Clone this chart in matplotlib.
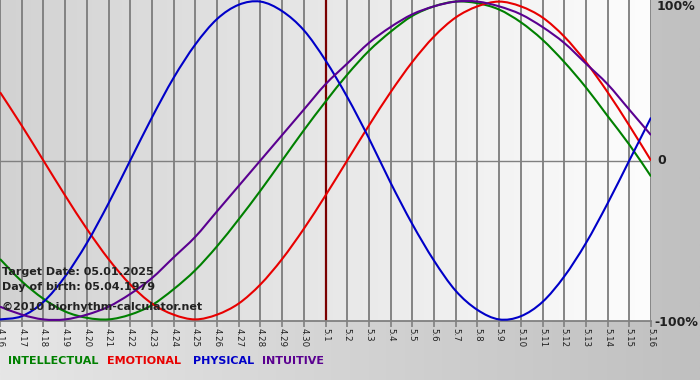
import numpy as np
import matplotlib
matplotlib.use('Agg')
import matplotlib.pyplot as plt
from matplotlib.path import Path
from matplotlib.patches import PathPatch
from matplotlib.colors import LinearSegmentedColormap

# days shown on the x axis (month.day)
days = ['4.16', '4.17', '4.18', '4.19', '4.20', '4.21', '4.22', '4.23', '4.24', '4.25',
        '4.26', '4.27', '4.28', '4.29', '4.30', '5.1', '5.2', '5.3', '5.4', '5.5',
        '5.6', '5.7', '5.8', '5.9', '5.10', '5.11', '5.12', '5.13', '5.14', '5.15', '5.16']
target_day = '5.1'

# daily values (-1 .. 1)
physical = [-1.00, -0.98, -0.89, -0.73, -0.52, -0.27, 0.00, 0.27, 0.52, 0.73,
            0.89, 0.98, 1.00, 0.94, 0.82, 0.63, 0.40, 0.14, -0.14, -0.40,
            -0.63, -0.82, -0.94, -1.00, -0.98, -0.89, -0.73, -0.52, -0.27, 0.00, 0.27]
emotional = [0.43, 0.22, 0.00, -0.22, -0.43, -0.62, -0.78, -0.90, -0.97, -1.00,
             -0.97, -0.90, -0.78, -0.62, -0.43, -0.22, 0.00, 0.22, 0.43, 0.62,
             0.78, 0.90, 0.97, 1.00, 0.97, 0.90, 0.78, 0.62, 0.43, 0.22, 0.00]
intellectual = [-0.62, -0.76, -0.87, -0.95, -0.99, -1.00, -0.97, -0.91, -0.81, -0.69,
                -0.54, -0.37, -0.19, 0.00, 0.19, 0.37, 0.54, 0.69, 0.81, 0.91,
                0.97, 1.00, 0.99, 0.95, 0.87, 0.76, 0.62, 0.46, 0.28, 0.10, -0.10]
intuitive = [-0.92, -0.97, -1.00, -1.00, -0.97, -0.92, -0.84, -0.74, -0.61, -0.48,
             -0.32, -0.16, 0.00, 0.16, 0.32, 0.48, 0.61, 0.74, 0.84, 0.92,
             0.97, 1.00, 1.00, 0.97, 0.92, 0.84, 0.74, 0.61, 0.48, 0.32, 0.16]

series = [('INTELLECTUAL', intellectual, '#008000'),
          ('EMOTIONAL', emotional, '#e80000'),
          ('PHYSICAL', physical, '#0000c8'),
          ('INTUITIVE', intuitive, '#5a0090')]


def smooth_path(xs, ys):
    # catmull-rom spline through the points, drawn as cubic bezier segments
    pts = np.column_stack([xs, ys]).astype(float)
    ext = np.vstack([pts[0], pts, pts[-1]])
    verts = [pts[0]]
    codes = [Path.MOVETO]
    for i in range(len(pts) - 1):
        p0, p1, p2, p3 = ext[i], ext[i + 1], ext[i + 2], ext[i + 3]
        verts += [p1 + (p2 - p0) / 6, p2 - (p3 - p1) / 6, p2]
        codes += [Path.CURVE4] * 3
    return Path(verts, codes)


W, H = 700, 380
fig = plt.figure(figsize=(W / 100, H / 100), dpi=100)

# figure background: grey gradient
bg = fig.add_axes([0, 0, 1, 1], zorder=-10)
grad = np.linspace(0, 1, 256).reshape(1, -1)
bg.imshow(grad, extent=[0, 1, 0, 1], aspect='auto',
          cmap=LinearSegmentedColormap.from_list('g', ['#e6e6e6', '#c0c0c0']))
bg.axis('off')

left_px, top_px, right_px, bottom_px = 0, 0, 651, 321
ax = fig.add_axes([left_px / W, 1 - bottom_px / H, (right_px - left_px) / W, (bottom_px - top_px) / H])

x = np.arange(len(days))
ax.set_xlim(0, len(days) - 1)
ax.set_ylim(-1.01, 1.01)

# plot area gradient
ax.imshow(grad, extent=[0, len(days) - 1, -1.01, 1.01], aspect='auto', zorder=0,
          cmap=LinearSegmentedColormap.from_list('p', ['#d2d2d2', '#fdfdfd']))

for xi in x:
    ax.axvline(xi, color='#7c7c7c', lw=1.3, zorder=1)
ax.axhline(0, color='#808080', lw=1.0, zorder=1)
ax.axvline(days.index(target_day), color='#7a0000', lw=1.6, zorder=2)

for name, vals, col in series:
    ax.add_patch(PathPatch(smooth_path(x, vals), facecolor='none', edgecolor=col, lw=1.5, zorder=3))

for s in ['top', 'right', 'left']:
    ax.spines[s].set_visible(False)
ax.spines['bottom'].set_color('#808080')
ax.spines['bottom'].set_linewidth(1.3)
ax.set_yticks([])
ax.set_xticks(x)
ax.set_xticklabels(days, rotation=-90, fontsize=6.2, color='#202020')
ax.tick_params(axis='x', length=4, width=1.2, color='#808080', pad=1)

# right side labels
rfont = dict(fontsize=9, fontweight='bold', color='#202020', va='center', ha='left')
fig.text(657 / W, 1 - 7 / H, '100%', **rfont)
fig.text(657 / W, 1 - 161 / H, '0', **rfont)
fig.text(654 / W, 1 - 322 / H, '-100%', **rfont)

# info text inside plot
ifont = dict(fontsize=8, fontweight='bold', color='#222222', va='center', ha='left')
fig.text(2 / W, 1 - 272 / H, 'Target Date: 05.01.2025', **ifont)
fig.text(2 / W, 1 - 287 / H, 'Day of birth: 05.04.1979', **ifont)
fig.text(2 / W, 1 - 307 / H, '©2010 biorhythm-calculator.net', **ifont)

# legend
lx = [8, 107, 193, 262]
for (name, vals, col), px in zip(series, lx):
    fig.text(px / W, 1 - 361 / H, name, fontsize=8, fontweight='bold', color=col, va='center', ha='left')

fig.savefig('out.png', dpi=100)
